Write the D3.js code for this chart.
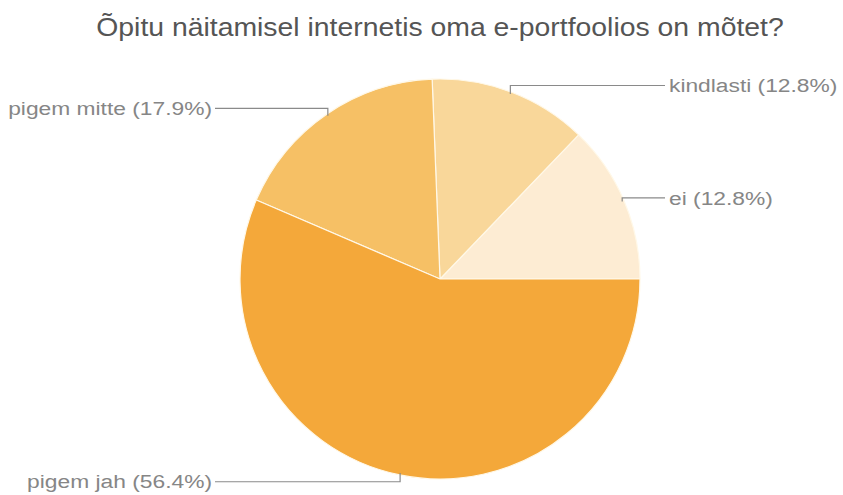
<!DOCTYPE html>
<html>
<head>
<meta charset="utf-8">
<script src="https://cdn.jsdelivr.net/npm/d3@7"></script>
<style>
  body { margin: 0; background: #fff; }
  text { font-family: "Liberation Sans", Arial, sans-serif; }
</style>
</head>
<body>
<div id="chart"></div>
<script>
// data
let categories = ["ei", "kindlasti", "pigem mitte", "pigem jah"];
let shares = [12.8, 12.8, 17.9, 56.4];
let colours = ["#fdecd3", "#f9d79a", "#f6c065", "#f4a83a"];
let chartTitle = "Õpitu näitamisel internetis oma e-portfoolios on mõtet?";

let svgwidth = 843;
let svgheight = 495;

let cx = 440, cy = 279, radius = 200;

let svg = d3.select("#chart")
    .append("svg")
    .attr("width", svgwidth)
    .attr("height", svgheight);

svg.append("text")
    .attr("x", cx)
    .attr("y", 36)
    .attr("text-anchor", "middle")
    .attr("fill", "#555")
    .style("font-size", "25px")
    .attr("transform", `translate(${cx},0) scale(1.135,1) translate(${-cx},0)`)
    .text(chartTitle);

let data = categories.map((c, i) => ({ name: c, value: shares[i], colour: colours[i] }));

// slices start at 3 o'clock and run counter-clockwise
let pie = d3.pie()
    .sort(null)
    .value(d => d.value)
    .startAngle(Math.PI / 2)
    .endAngle(Math.PI / 2 - 2 * Math.PI);

let arc = d3.arc().innerRadius(0).outerRadius(radius);

let pieGroup = svg.append("g")
    .attr("transform", `translate(${cx}, ${cy})`);

let arcs = pie(data);

pieGroup.selectAll("path")
    .data(arcs)
    .enter()
    .append("path")
    .attr("d", arc)
    .attr("fill", d => d.data.colour)
    .attr("stroke", "#fff8e8")
    .attr("stroke-width", 1.2);

// leader lines + labels
let labelGroup = svg.append("g");

arcs.forEach(function(d) {
    let a = (d.startAngle + d.endAngle) / 2;
    let ax = cx + (radius - 2) * Math.sin(a);
    let ay = cy - (radius - 2) * Math.cos(a);
    let ly = cy - (radius + 7) * Math.cos(a);
    let right = Math.sin(a) > 0;
    let endX = right ? cx + 225 : cx - 225;

    labelGroup.append("polyline")
        .attr("points", [[ax, ay], [ax, ly], [endX, ly]].map(p => p.join(",")).join(" "))
        .attr("fill", "none")
        .attr("stroke", "#8a8a8a")
        .attr("stroke-width", 1.2);

    let tx = right ? endX + 4 : endX - 3;
    labelGroup.append("text")
        .attr("x", tx)
        .attr("y", ly)
        .attr("dy", "0.35em")
        .attr("text-anchor", right ? "start" : "end")
        .attr("fill", "#868686")
        .style("font-size", "19px")
        .attr("transform", `translate(${tx},0) scale(1.2,1) translate(${-tx},0)`)
        .text(`${d.data.name} (${d.data.value}%)`);
});
</script>
</body>
</html>
